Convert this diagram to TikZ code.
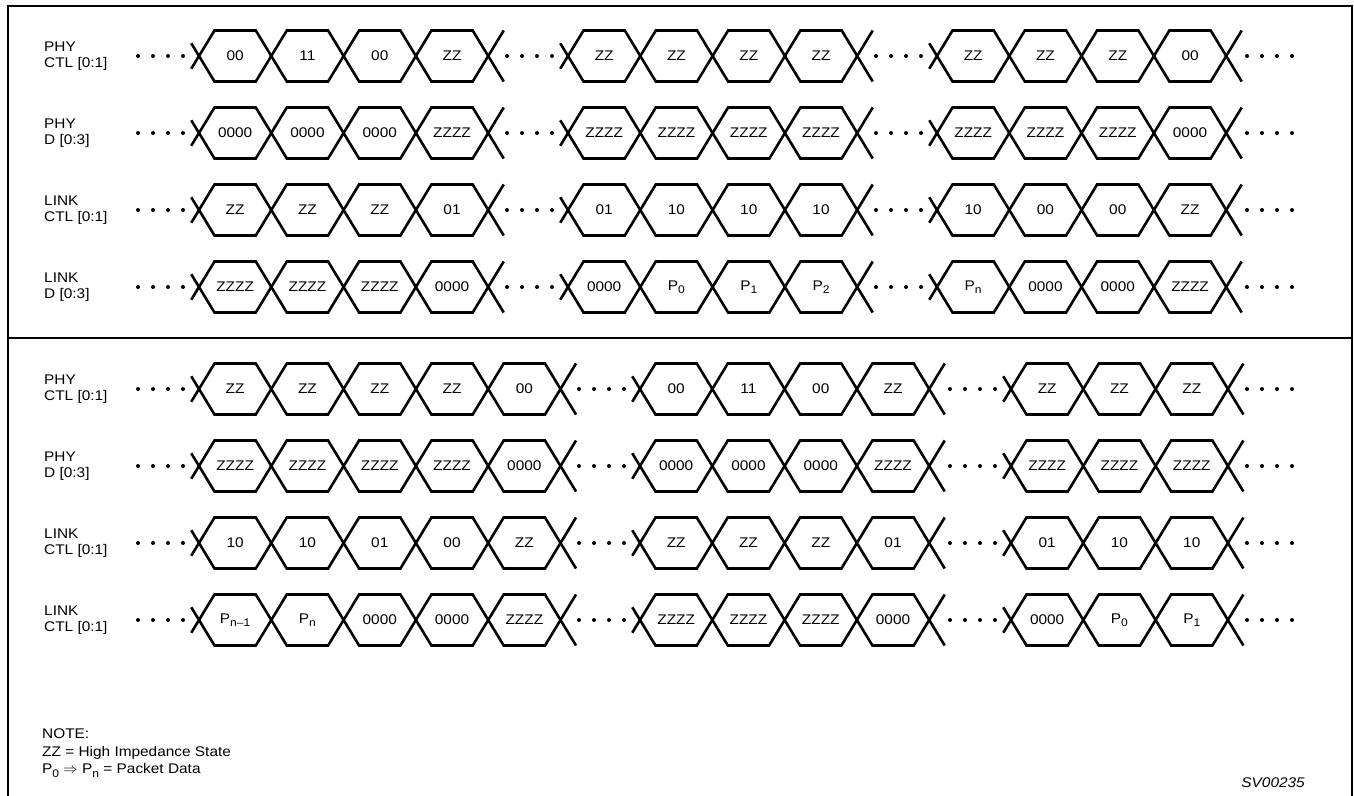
\documentclass[tikz,border=0pt]{standalone}
\usepackage{fontspec}
\setmainfont{Liberation Sans}[FakeStretch=1.1]
\newcommand{\lowsub}[1]{\raisebox{-0.45ex}{\fontsize{11}{12}\selectfont #1}}

\begin{document}
\begin{tikzpicture}[x=1pt, y=-1pt,
    frame/.style={line width=2.2pt},
    wave/.style={line width=2.6pt, line join=miter},
    bit/.style={inner sep=0pt, font=\fontsize{14}{16}\selectfont},
    signame/.style={inner sep=0pt, anchor=west, align=left, font=\fontsize{14}{15.5}\selectfont},
    note/.style={inner sep=0pt, anchor=west, align=left, font=\fontsize{14}{17.5}\selectfont},
]
\useasboundingbox (0,0) rectangle (1354,795);
\def\cw{72.3}
\def\slp{15.5}
\def\hh{25.5}

% frame, open at the bottom
\draw[frame] (8,800) -- (8,6) -- (1352,6) -- (1352,800);
\draw[frame] (8,338) -- (1352,338);

% signal names
\node[signame] (phyctl1)  at (44,56)  {PHY\\CTL [0:1]};
\node[signame] (phyd1)    at (44,133) {PHY\\D [0:3]};
\node[signame] (linkctl1) at (44,210) {LINK\\CTL [0:1]};
\node[signame] (linkd1)   at (44,287) {LINK\\D [0:3]};
\node[signame] (phyctl2)  at (44,389) {PHY\\CTL [0:1]};
\node[signame] (phyd2)    at (44,466) {PHY\\D [0:3]};
\node[signame] (linkctl2) at (44,543) {LINK\\CTL [0:1]};
\node[signame] (linkd2)   at (44,620) {LINK\\CTL [0:1]};

% bus groups: row y / start x / values
\foreach \y/\x/\vals in {
    56/199/{00,11,00,ZZ}, 56/568/{ZZ,ZZ,ZZ,ZZ}, 56/937/{ZZ,ZZ,ZZ,00},
    133/199/{0000,0000,0000,ZZZZ}, 133/568/{ZZZZ,ZZZZ,ZZZZ,ZZZZ}, 133/937/{ZZZZ,ZZZZ,ZZZZ,0000},
    210/199/{ZZ,ZZ,ZZ,01}, 210/568/{01,10,10,10}, 210/937/{10,00,00,ZZ},
    287/199/{ZZZZ,ZZZZ,ZZZZ,0000}, 287/568/{0000,P\lowsub{0},P\lowsub{1},P\lowsub{2}}, 287/937/{P\lowsub{n},0000,0000,ZZZZ},
    389/199/{ZZ,ZZ,ZZ,ZZ,00}, 389/640/{00,11,00,ZZ}, 389/1011/{ZZ,ZZ,ZZ},
    466/199/{ZZZZ,ZZZZ,ZZZZ,ZZZZ,0000}, 466/640/{0000,0000,0000,ZZZZ}, 466/1011/{ZZZZ,ZZZZ,ZZZZ},
    543/199/{10,10,01,00,ZZ}, 543/640/{ZZ,ZZ,ZZ,01}, 543/1011/{01,10,10},
    620/199/{P\lowsub{n--1},P\lowsub{n},0000,0000,ZZZZ}, 620/640/{ZZZZ,ZZZZ,ZZZZ,0000}, 620/1011/{0000,P\lowsub{0},P\lowsub{1}}%
}{
  \foreach \k in {0,...,3} \fill ({\x-61+15*\k},\y) circle (2pt);
  \foreach \v [count=\i from 0] in \vals {
    \node[bit] (v\y-\x-\i) at ({\x+(\i+0.5)*\cw},\y) {\v};
    \xdef\nc{\i}
  }
  \draw[wave] ({\x-0.5*\slp},{\y-0.5*\hh})
    \foreach \i in {0,...,\nc} {
      -- ({\x+\i*\cw+\slp},{\y+\hh*(1-2*mod(\i,2))})
      -- ({\x+(\i+1)*\cw-\slp},{\y+\hh*(1-2*mod(\i,2))})
    }
    -- ({\x+(\nc+1)*\cw+\slp},{\y+\hh*(1-2*mod(\nc+1,2))});
  \draw[wave] ({\x-0.5*\slp},{\y+0.5*\hh})
    \foreach \i in {0,...,\nc} {
      -- ({\x+\i*\cw+\slp},{\y-\hh*(1-2*mod(\i,2))})
      -- ({\x+(\i+1)*\cw-\slp},{\y-\hh*(1-2*mod(\i,2))})
    }
    -- ({\x+(\nc+1)*\cw+\slp},{\y-\hh*(1-2*mod(\nc+1,2))});
}

% trailing dots
\foreach \y in {56,133,210,287,389,466,543,620}
  \foreach \k in {0,...,3} \fill ({1247+15*\k},\y) circle (2pt);

\node[note] (note) at (42,753) {NOTE:\\ZZ = High Impedance State\\P\lowsub{0} $\Rightarrow$ P\lowsub{n} = Packet Data};
\node[inner sep=0pt, anchor=east, font=\fontsize{14}{16}\selectfont\itshape] (figno) at (1305,783) {SV00235};
\end{tikzpicture}
\end{document}
